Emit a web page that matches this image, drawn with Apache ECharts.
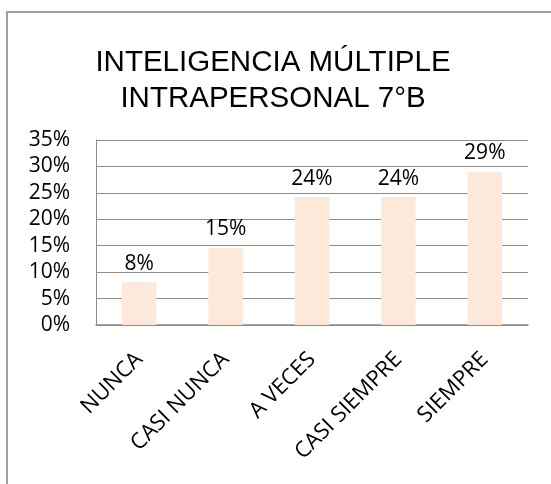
<!DOCTYPE html>
<html>
<head>
<meta charset="utf-8">
<script src="https://cdn.jsdelivr.net/npm/echarts@6/dist/echarts.min.js"></script>
<style>
  html, body { margin: 0; padding: 0; background: #fff; }
  #main { width: 551px; height: 484px; }
</style>
</head>
<body>
<div id="main"></div>
<script>
// chart data
const titleLines = ['INTELIGENCIA MÚLTIPLE', 'INTRAPERSONAL 7°B'];
const categories = ['NUNCA', 'CASI NUNCA', 'A VECES', 'CASI SIEMPRE', 'SIEMPRE'];
const shares = [0.081, 0.146, 0.242, 0.242, 0.290];
const yTicks = [0, 0.05, 0.10, 0.15, 0.20, 0.25, 0.30, 0.35];

const chartDom = document.getElementById('main');
const myChart = echarts.init(chartDom);

const pct = v => Math.round(v * 100) + '%';

const option = {
    animation: false,
    backgroundColor: '#ffffff',
    title: {
        text: titleLines.join('\n'),
        left: 268,
        top: 40,
        textAlign: 'center',
        textStyle: {
            fontFamily: 'Liberation Sans',
            fontWeight: 'normal',
            fontSize: 29.5,
            lineHeight: 36,
            color: '#000'
        }
    },
    graphic: [
        {
            // outer chart border (continues past right/bottom edge)
            type: 'rect',
            shape: { x: 7, y: 12, width: 700, height: 700 },
            style: { fill: 'none', stroke: '#a0a0a0', lineWidth: 2 },
            silent: true
        }
    ],
    grid: {
        left: 96,
        right: 23,
        top: 140,
        bottom: 159
    },
    xAxis: {
        type: 'category',
        data: categories,
        axisLine: { lineStyle: { color: '#8c8c8c', width: 1.5 } },
        axisTick: { show: false },
        axisLabel: {
            rotate: 45,
            interval: 0,
            margin: 31,
            fontFamily: 'Open Sans',
            fontSize: 22,
            color: '#000'
        }
    },
    yAxis: {
        type: 'value',
        min: yTicks[0],
        max: yTicks[yTicks.length - 1],
        interval: 0.05,
        axisLine: { show: true, lineStyle: { color: '#8c8c8c' } },
        axisTick: { show: false },
        splitLine: { lineStyle: { color: '#8c8c8c' } },
        axisLabel: {
            margin: 26,
            fontFamily: 'Open Sans',
            fontSize: 21,
            color: '#000',
            formatter: pct
        }
    },
    series: [
        {
            type: 'bar',
            data: shares,
            barWidth: '40%',
            itemStyle: { color: '#FDE9D9' },
            label: {
                show: true,
                position: 'top',
                distance: 8,
                fontFamily: 'Open Sans',
                fontSize: 21,
                color: '#000',
                formatter: p => pct(p.value)
            }
        }
    ]
};

myChart.setOption(option);
</script>
</body>
</html>
